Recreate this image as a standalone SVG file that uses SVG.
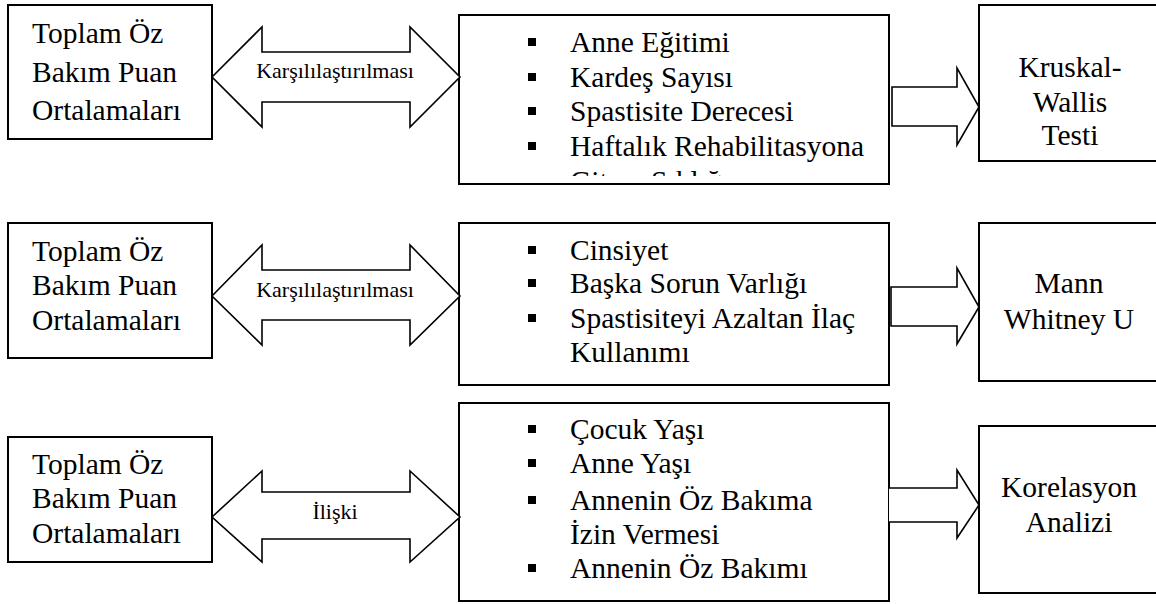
<svg xmlns="http://www.w3.org/2000/svg" width="1156" height="604" viewBox="0 0 1156 604">
<style>
.box{fill:#fff;stroke:#000;stroke-width:2}
.arr{fill:#fff;stroke:#000;stroke-width:1.6;stroke-linejoin:miter}
.bul{fill:#000}
</style>
<defs>
<clipPath id="clip1"><rect x="460" y="16" width="428" height="160"/></clipPath>
</defs>
<rect x="0" y="0" width="1156" height="604" fill="#fff"/>
<g id="left1" font-family="Liberation Serif" font-size="29.5">
<rect class="box" x="8" y="5" width="204" height="134"/>
<text font-family="Liberation Serif" font-size="29.5" x="32" y="43">Toplam Öz</text>
<text font-family="Liberation Serif" font-size="29.5" x="32" y="82">Bakım Puan</text>
<text font-family="Liberation Serif" font-size="29.5" x="32" y="120">Ortalamaları</text>
</g>
<g id="mid1">
<rect class="box" x="459" y="15" width="430" height="169"/>
<rect class="bul" x="528" y="38" width="8" height="8"/>
<rect class="bul" x="528" y="73" width="8" height="8"/>
<rect class="bul" x="528" y="107" width="8" height="8"/>
<rect class="bul" x="528" y="142" width="8" height="8"/>
<g clip-path="url(#clip1)">
<text font-family="Liberation Serif" font-size="29.5" x="570" y="52">Anne Eğitimi</text>
<text font-family="Liberation Serif" font-size="29.5" x="570" y="87">Kardeş Sayısı</text>
<text font-family="Liberation Serif" font-size="29.5" x="570" y="121">Spastisite Derecesi</text>
<text font-family="Liberation Serif" font-size="29.5" x="570" y="156">Haftalık Rehabilitasyona</text>
<text font-family="Liberation Serif" font-size="29.5" x="570" y="191">Gitme Sıklığı</text>
</g>
</g>
<g id="right1">
<rect class="box" x="979" y="5" width="190" height="156"/>
<text font-family="Liberation Serif" font-size="29.5" text-anchor="middle" x="1070" y="77">Kruskal-</text>
<text font-family="Liberation Serif" font-size="29.5" text-anchor="middle" x="1070" y="112">Wallis</text>
<text font-family="Liberation Serif" font-size="29.5" text-anchor="middle" x="1070" y="145">Testi</text>
</g>

<g id="left2">
<rect class="box" x="8" y="223" width="204" height="135"/>
<text font-family="Liberation Serif" font-size="29.5" x="32" y="261">Toplam Öz</text>
<text font-family="Liberation Serif" font-size="29.5" x="32" y="295">Bakım Puan</text>
<text font-family="Liberation Serif" font-size="29.5" x="32" y="330">Ortalamaları</text>
</g>
<g id="mid2">
<rect class="box" x="459" y="223" width="430" height="162"/>
<rect class="bul" x="528" y="246" width="8" height="8"/>
<rect class="bul" x="528" y="279" width="8" height="8"/>
<rect class="bul" x="528" y="314" width="8" height="8"/>
<text font-family="Liberation Serif" font-size="29.5" x="570" y="260">Cinsiyet</text>
<text font-family="Liberation Serif" font-size="29.5" x="570" y="293">Başka Sorun Varlığı</text>
<text font-family="Liberation Serif" font-size="29.5" x="570" y="328">Spastisiteyi Azaltan İlaç</text>
<text font-family="Liberation Serif" font-size="29.5" x="570" y="362">Kullanımı</text>
</g>
<g id="right2">
<rect class="box" x="979" y="223" width="190" height="158"/>
<text font-family="Liberation Serif" font-size="29.5" text-anchor="middle" x="1069" y="293">Mann</text>
<text font-family="Liberation Serif" font-size="29.5" text-anchor="middle" x="1069" y="329">Whitney U</text>
</g>

<g id="left3">
<rect class="box" x="8" y="437" width="204" height="125"/>
<text font-family="Liberation Serif" font-size="29.5" x="32" y="474">Toplam Öz</text>
<text font-family="Liberation Serif" font-size="29.5" x="32" y="508">Bakım Puan</text>
<text font-family="Liberation Serif" font-size="29.5" x="32" y="543">Ortalamaları</text>
</g>
<g id="mid3">
<rect class="box" x="459" y="403" width="430" height="198"/>
<rect class="bul" x="528" y="425" width="8" height="8"/>
<rect class="bul" x="528" y="459" width="8" height="8"/>
<rect class="bul" x="528" y="496" width="8" height="8"/>
<rect class="bul" x="528" y="564" width="8" height="8"/>
<text font-family="Liberation Serif" font-size="29.5" x="570" y="439">Çocuk Yaşı</text>
<text font-family="Liberation Serif" font-size="29.5" x="570" y="473">Anne Yaşı</text>
<text font-family="Liberation Serif" font-size="29.5" x="570" y="510">Annenin Öz Bakıma</text>
<text font-family="Liberation Serif" font-size="29.5" x="570" y="544">İzin Vermesi</text>
<text font-family="Liberation Serif" font-size="29.5" x="570" y="578">Annenin Öz Bakımı</text>
</g>
<g id="right3">
<rect class="box" x="979" y="426" width="190" height="167"/>
<text font-family="Liberation Serif" font-size="29.5" text-anchor="middle" x="1069" y="497">Korelasyon</text>
<text font-family="Liberation Serif" font-size="29.5" text-anchor="middle" x="1069" y="532">Analizi</text>
</g>

<g id="connectors">
<path class="arr" d="M212,77 L262,27 L262,52 L410,52 L410,27 L460,77 L410,127 L410,102 L262,102 L262,127 Z"/>
<text font-family="Liberation Serif" font-size="22" text-anchor="middle" x="335" y="78">Karşılılaştırılması</text>
<path class="arr" d="M212,296 L262,245 L262,270 L410,270 L410,245 L460,296 L410,345 L410,320 L262,320 L262,345 Z"/>
<text font-family="Liberation Serif" font-size="22" text-anchor="middle" x="335" y="297">Karşılılaştırılması</text>
<path class="arr" d="M212,517 L262,471 L262,492 L410,492 L410,471 L460,517 L410,562 L410,539 L262,539 L262,562 Z"/>
<text font-family="Liberation Serif" font-size="22" text-anchor="middle" x="335" y="519">İlişki</text>
<path class="arr" d="M892,87 L957,87 L957,68 L979,107 L957,145 L957,126 L892,126 Z"/>
<path class="arr" d="M891,287 L957,287 L957,268 L979,307 L957,344 L957,326 L891,326 Z"/>
<path class="arr" d="M889,488 L957,488 L957,470 L979,505 L957,538 L957,522 L889,522"/>
</g>
</svg>
